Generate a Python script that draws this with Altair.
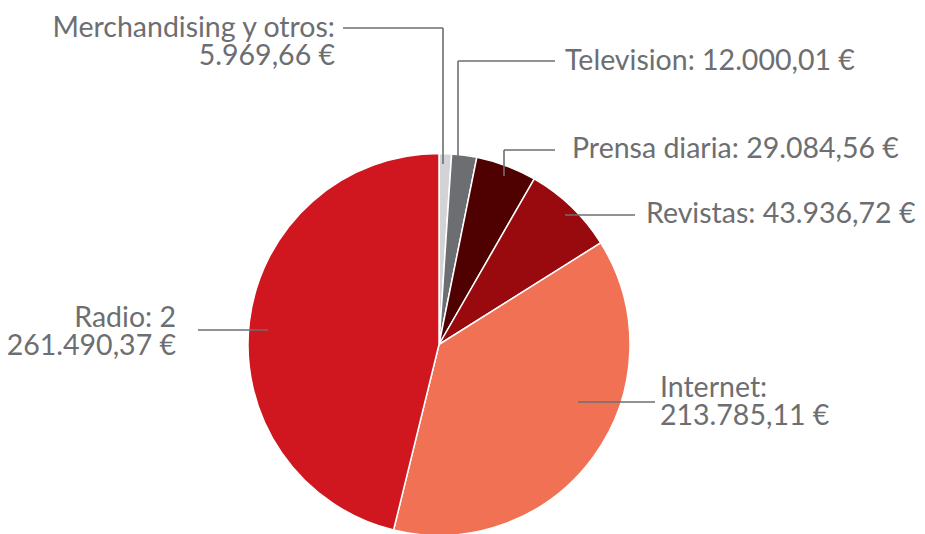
import altair as alt
import pandas as pd

# ---- data ----
categories = ["Merchandising y otros", "Television", "Prensa diaria", "Revistas", "Internet", "Radio"]
values = [5969.66, 12000.01, 29084.56, 43936.72, 213785.11, 261490.37]
colors = ["#d1d3d4", "#6d6e71", "#4f0000", "#980a0e", "#f07154", "#d0161e"]

# label lines as printed in the figure
label_lines = [
    ["Merchandising y otros:", "5.969,66 €"],
    ["Television: 12.000,01 €"],
    ["Prensa diaria: 29.084,56 €"],
    ["Revistas: 43.936,72 €"],
    ["Internet:", "213.785,11 €"],
    ["Radio: 2", "261.490,37 €"],
]

# ---- layout (chart pixel coordinates) ----
OFF = 8
CX, CY, R = 439 - OFF, 344.5 - OFF, 191
label_anchor = [  # (x, first baseline, align)
    (335, 37, "right"),
    (565, 70, "left"),
    (572, 158, "left"),
    (646, 223, "left"),
    (660, 397, "left"),
    (176, 327, "right"),
]
LINE_H = 28
leader_segments = [  # (x, y, x2, y2) in page pixels
    (343, 28, 443, 28), (443, 28, 443, 164),
    (458, 61, 555, 61), (458, 61, 458, 158),
    (504, 150, 555, 150), (504, 150, 504, 176),
    (565, 215, 635, 215),
    (578, 402, 655, 402),
    (198, 330, 268, 330),
]

GRAY = "#6d6e71"
FONT = "Lato"
FS = 28.5

pie_df = pd.DataFrame({"category": categories, "value": values, "idx": list(range(len(categories)))})

pie = alt.Chart(pie_df).mark_arc(outerRadius=R, stroke="white", strokeWidth=1.5).encode(
    theta=alt.Theta("value:Q", stack=True),
    color=alt.Color("category:N", scale=alt.Scale(domain=categories, range=colors), legend=None),
    order=alt.Order("idx:Q"),
    x=alt.value(CX),
    y=alt.value(CY),
)

seg_df = pd.DataFrame(
    [(a - OFF, b - OFF, c - OFF, d - OFF) for a, b, c, d in leader_segments],
    columns=["x", "y", "x2", "y2"],
)
leaders = alt.Chart(seg_df).mark_rule(color=GRAY, strokeWidth=1.6).encode(
    x=alt.X("x:Q", scale=None, axis=None),
    x2="x2:Q",
    y=alt.Y("y:Q", scale=None, axis=None),
    y2="y2:Q",
)

rows = []
for lines, (lx, ly, al) in zip(label_lines, label_anchor):
    for i, t in enumerate(lines):
        rows.append({"text": t, "x": lx - OFF, "y": ly - OFF + i * LINE_H, "align": al})
txt_df = pd.DataFrame(rows)


def text_layer(al):
    return alt.Chart(txt_df[txt_df["align"] == al]).mark_text(
        align=al, baseline="alphabetic", font=FONT, fontSize=FS, color=GRAY
    ).encode(
        x=alt.X("x:Q", scale=None, axis=None),
        y=alt.Y("y:Q", scale=None, axis=None),
        text="text:N",
    )


chart = alt.layer(pie, leaders, text_layer("left"), text_layer("right")).properties(
    width=909, height=526, padding=0, autosize="none"
).configure_view(stroke=None)

chart.save("out.html", embed_options={"renderer": "svg", "actions": False})
